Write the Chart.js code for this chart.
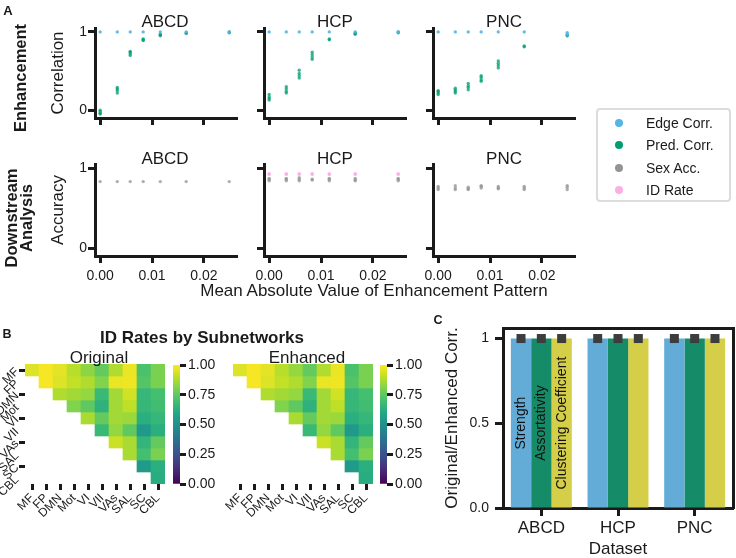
<!DOCTYPE html>
<html>
<head>
<meta charset="utf-8">
<script src="https://cdn.jsdelivr.net/npm/chart.js@4.4.1/dist/chart.umd.min.js"></script>
<style>
  body { margin: 0; background: #fff; }
  #fig { position: relative; width: 736px; height: 558px; overflow: hidden;
         font-family: "Liberation Sans", Arial, sans-serif; color: #1a1a1a; }
  #fig canvas { position: absolute; left: 0; top: 0; }
  .lbl { position: absolute; transform: translate(-50%, -50%); white-space: nowrap; line-height: 1; }
  .rot { transform: translate(-50%, -50%) rotate(-90deg); text-align: center; }
  .b { font-weight: bold; }
  #legend { position: absolute; left: 596px; top: 108px; width: 131px; height: 90px;
            border: 2px solid #dcdcdc; border-radius: 4px; }
  .li { position: absolute; left: 0; font-size: 14px; line-height: 1; }
  .li i { position: absolute; left: 17px; width: 8px; height: 8px; border-radius: 50%; top: 3px; }
  .li span { position: absolute; left: 48px; white-space: nowrap; }
</style>
</head>
<body>
<div id="fig">
  <canvas id="aTop0" width="736" height="558"></canvas>
  <canvas id="aTop1" width="736" height="558"></canvas>
  <canvas id="aTop2" width="736" height="558"></canvas>
  <canvas id="aBot0" width="736" height="558"></canvas>
  <canvas id="aBot1" width="736" height="558"></canvas>
  <canvas id="aBot2" width="736" height="558"></canvas>
  <canvas id="heatOrig" width="736" height="558"></canvas>
  <canvas id="heatEnh" width="736" height="558"></canvas>
  <canvas id="cbOrig" width="736" height="558"></canvas>
  <canvas id="cbEnh" width="736" height="558"></canvas>
  <canvas id="barC" width="736" height="558"></canvas>

  <div class="lbl b" style="left:8px;top:10px;font-size:13px">A</div>
  <div class="lbl b rot" style="left:20px;top:78px;font-size:16.5px">Enhancement</div>
  <div class="lbl b rot" style="left:19px;top:218px;font-size:16.5px;line-height:15px">Downstream<br>Analysis</div>
  <div class="lbl" style="left:165px;top:21px;font-size:17px">ABCD</div>
  <div class="lbl" style="left:335px;top:21px;font-size:17px">HCP</div>
  <div class="lbl" style="left:504px;top:21px;font-size:17px">PNC</div>
  <div class="lbl" style="left:165px;top:158px;font-size:17px">ABCD</div>
  <div class="lbl" style="left:335px;top:158px;font-size:17px">HCP</div>
  <div class="lbl" style="left:504px;top:158px;font-size:17px">PNC</div>
  <div class="lbl" style="left:374px;top:290px;font-size:17px">Mean Absolute Value of Enhancement Pattern</div>
  <div id="legend"></div>

  <div class="lbl b" style="left:7px;top:334px;font-size:12.5px">B</div>
  <div class="lbl b" style="left:202px;top:337px;font-size:17px">ID Rates by Subnetworks</div>
  <div class="lbl" style="left:99px;top:357px;font-size:17px">Original</div>
  <div class="lbl" style="left:307px;top:357px;font-size:17px">Enhanced</div>

  <div class="lbl b" style="left:438px;top:320px;font-size:12.5px">C</div>
</div>

<script>
// ── data: panel A ───────────────────────────────────────
const enhLevels = [0, 0.0033, 0.0058, 0.0083, 0.0116, 0.0166, 0.0249];
const xTickVals = [0, 0.01, 0.02];
const yTickVals = [0, 1];

// one inner list per enhancement level (repeated runs)
const abcdEdge = [[1], [1], [1], [1], [1], [1], [1]];
const abcdPred = [[0.0, -0.02, -0.04, -0.05], [0.22, 0.25, 0.27, 0.29], [0.70, 0.72, 0.74, 0.75],
                  [0.89, 0.90, 0.91], [0.95, 0.96, 0.97], [0.98, 0.99], [0.99, 1.0]];
const hcpEdge  = [[1], [1], [1], [1], [1], [1], [1]];
const hcpPred  = [[0.13, 0.15, 0.17, 0.20], [0.22, 0.24, 0.27, 0.30], [0.41, 0.44, 0.47, 0.51],
                  [0.65, 0.68, 0.71, 0.74], [0.90, 0.91], [0.97, 0.98, 0.99], [0.99, 1.0]];
const pncEdge  = [[1], [1], [1], [1], [1], [1], [0.97, 0.99]];
const pncPred  = [[0.20, 0.22, 0.24, 0.25], [0.22, 0.24, 0.26, 0.28], [0.26, 0.29, 0.31, 0.34],
                  [0.37, 0.39, 0.42, 0.44], [0.54, 0.57, 0.60, 0.63], [0.81, 0.82], [0.95, 0.96]];

const abcdSex = [[0.83], [0.83], [0.83], [0.83], [0.83], [0.83], [0.83]];
const abcdId  = [[], [], [], [], [], [], []];
const hcpSex  = [[0.84, 0.86, 0.87], [0.84, 0.86, 0.87], [0.84, 0.86, 0.88], [0.85, 0.86],
                 [0.84, 0.86, 0.87], [0.84, 0.85, 0.87], [0.84, 0.86, 0.87]];
const hcpId   = [[0.92, 0.93], [0.92, 0.93], [0.92, 0.93], [0.92, 0.93], [0.92, 0.93], [0.92, 0.93], [0.92, 0.93]];
const pncSex  = [[0.73, 0.75, 0.77], [0.73, 0.75, 0.78], [0.73, 0.74, 0.76], [0.75, 0.77, 0.78],
                 [0.74, 0.75, 0.77], [0.73, 0.75, 0.77], [0.73, 0.76, 0.78]];
const pncId   = [[], [], [], [], [], [], []];

const SERIES = {
  edge: { label: "Edge Corr.",  color: "rgba(86,180,233,0.9)",  legend: "#56b4e9" },
  pred: { label: "Pred. Corr.", color: "rgba(2,158,115,0.75)",  legend: "#029e73" },
  sex:  { label: "Sex Acc.",    color: "rgba(148,148,148,0.75)", legend: "#949494" },
  id:   { label: "ID Rate",     color: "rgba(251,175,228,0.9)", legend: "#fbafe4" },
};

// ── data: panel B (upper triangle, row i holds columns i..9) ──
const netLabels = ["MF", "FP", "DMN", "Mot", "VI", "VII", "VAs", "SAL", "SC", "CBL"];
const idRateOrig = [
  [0.95, 0.99, 0.96, 0.89, 0.83, 0.76, 0.88, 0.97, 0.71, 0.80],
  [0.99, 0.95, 0.91, 0.88, 0.81, 0.97, 0.98, 0.73, 0.80],
  [0.88, 0.86, 0.84, 0.67, 0.86, 0.93, 0.66, 0.70],
  [0.81, 0.75, 0.64, 0.86, 0.90, 0.66, 0.69],
  [0.87, 0.76, 0.86, 0.85, 0.63, 0.66],
  [0.67, 0.84, 0.75, 0.53, 0.63],
  [0.92, 0.87, 0.65, 0.76],
  [0.87, 0.70, 0.80],
  [0.54, 0.63],
  [0.62],
];
const idRateEnh = [
  [0.95, 0.99, 0.96, 0.89, 0.84, 0.76, 0.88, 0.97, 0.71, 0.80],
  [0.99, 0.95, 0.91, 0.88, 0.81, 0.97, 0.98, 0.73, 0.80],
  [0.88, 0.86, 0.84, 0.67, 0.86, 0.93, 0.66, 0.70],
  [0.81, 0.75, 0.64, 0.86, 0.90, 0.66, 0.69],
  [0.87, 0.76, 0.86, 0.85, 0.63, 0.66],
  [0.67, 0.84, 0.75, 0.53, 0.63],
  [0.92, 0.87, 0.65, 0.76],
  [0.87, 0.70, 0.80],
  [0.54, 0.63],
  [0.62],
];
const cbTickVals = [0, 0.25, 0.5, 0.75, 1];

// ── data: panel C ───────────────────────────────────────
const datasetsC = ["ABCD", "HCP", "PNC"];
const strengthCorr = [0.998, 0.998, 0.998];
const assortCorr   = [0.998, 0.998, 0.998];
const clusterCorr  = [0.998, 0.998, 0.998];
const cTickVals   = [0, 0.5, 1];
const cTickLabels = ["0.0", "0.5", "1"];

// ── shared style ────────────────────────────────────────
const W = 736, H = 558;
const INK = "#1a1a1a";
const FONT = '"Liberation Sans", Arial, sans-serif';
const VIRIDIS = ["#440154", "#482475", "#414487", "#355f8d", "#2a788e", "#21918c",
                 "#22a884", "#44bf70", "#7ad151", "#bddf26", "#fde725"];

Chart.defaults.font.family = FONT;
Chart.defaults.color = INK;
Chart.defaults.animation = false;
Chart.defaults.responsive = false;
Chart.defaults.devicePixelRatio = 1;
Chart.defaults.events = [];
Chart.defaults.plugins.legend.display = false;
Chart.defaults.plugins.tooltip.enabled = false;

function hexRgb(h) {
  return [1, 3, 5].map(k => parseInt(h.slice(k, k + 2), 16));
}
function viridis(v) {
  const t = Math.max(0, Math.min(1, v)) * (VIRIDIS.length - 1);
  const k = Math.min(Math.floor(t), VIRIDIS.length - 2);
  const f = t - k;
  const a = hexRgb(VIRIDIS[k]), b = hexRgb(VIRIDIS[k + 1]);
  const c = a.map((x, i) => Math.round(x + (b[i] - x) * f));
  return `rgb(${c[0]},${c[1]},${c[2]})`;
}

const tickGrid = (len, w) => ({ display: true, drawOnChartArea: false, drawTicks: true,
                                tickLength: len, tickWidth: w, tickColor: INK });
const spine = { display: true, width: 3, color: INK };

function toPoints(vals) {
  const pts = [];
  vals.forEach((runs, i) => runs.forEach(v => pts.push({ x: enhLevels[i], y: v })));
  return pts;
}

// ── panel A: scatter subplots ───────────────────────────
function scatterPanel(id, area, series, opt) {
  new Chart(document.getElementById(id), {
    type: "scatter",
    data: {
      datasets: series.map(([key, vals]) => ({
        label: SERIES[key].label,
        data: toPoints(vals),
        backgroundColor: SERIES[key].color,
        borderWidth: 0,
        pointRadius: 1.7,
      })),
    },
    options: {
      layout: { padding: { left: area.l - opt.yw, top: area.t, right: W - area.r, bottom: H - area.b - 30 } },
      scales: {
        x: {
          type: "linear", min: -0.001, max: 0.0264,
          afterBuildTicks: s => { s.ticks = xTickVals.map(v => ({ value: v })); },
          afterFit: s => { s.height = 30; },
          grid: tickGrid(7, 3), border: spine,
          ticks: { autoSkip: false, padding: 5, font: { size: 14 }, color: INK,
                   callback: v => opt.xLabels ? Number(v).toFixed(2) : "" },
        },
        y: {
          type: "linear", min: -0.1, max: 1.05,
          afterBuildTicks: s => { s.ticks = yTickVals.map(v => ({ value: v })); },
          afterFit: s => { s.width = opt.yw; },
          grid: tickGrid(7, 3), border: spine,
          ticks: { autoSkip: false, padding: 1, font: { size: 14 }, color: INK,
                   callback: v => opt.yTitle ? String(v) : "" },
          title: { display: !!opt.yTitle, text: opt.yTitle || "", font: { size: 17 },
                   color: INK, padding: { top: 0, bottom: 0 } },
        },
      },
    },
  });
}

const colL = [95, 264, 433];
const topRow = { t: 28, b: 118 }, botRow = { t: 164, b: 256 };
const areaOf = (c, row) => ({ l: colL[c], r: colL[c] + 142, t: row.t, b: row.b });

scatterPanel("aTop0", areaOf(0, topRow), [["edge", abcdEdge], ["pred", abcdPred]], { yw: 47, yTitle: "Correlation", xLabels: false });
scatterPanel("aTop1", areaOf(1, topRow), [["edge", hcpEdge],  ["pred", hcpPred]],  { yw: 30, xLabels: false });
scatterPanel("aTop2", areaOf(2, topRow), [["edge", pncEdge],  ["pred", pncPred]],  { yw: 30, xLabels: false });
scatterPanel("aBot0", areaOf(0, botRow), [["sex", abcdSex], ["id", abcdId]], { yw: 47, yTitle: "Accuracy", xLabels: true });
scatterPanel("aBot1", areaOf(1, botRow), [["sex", hcpSex],  ["id", hcpId]],  { yw: 30, xLabels: true });
scatterPanel("aBot2", areaOf(2, botRow), [["sex", pncSex],  ["id", pncId]],  { yw: 30, xLabels: true });

// legend (HTML)
const legendEl = document.getElementById("legend");
["edge", "pred", "sex", "id"].forEach((k, i) => {
  const row = document.createElement("div");
  row.className = "li";
  row.style.top = (6 + i * 22.3) + "px";
  row.innerHTML = `<i style="background:${SERIES[k].legend}"></i><span>${SERIES[k].label}</span>`;
  legendEl.appendChild(row);
});

// ── panel B: heatmaps + colorbars ───────────────────────
const rotYLabels = {
  id: "rotYLabels",
  afterDraw(chart) {
    const { ctx, chartArea, scales } = chart;
    ctx.save();
    ctx.font = `12px ${FONT}`;
    ctx.fillStyle = INK;
    ctx.textAlign = "right";
    ctx.textBaseline = "middle";
    netLabels.forEach((lab, i) => {
      ctx.save();
      ctx.translate(chartArea.left - 8, scales.y.getPixelForValue(i + 0.5));
      ctx.rotate(-Math.PI / 4);
      ctx.fillText(lab, 0, 0);
      ctx.restore();
    });
    ctx.restore();
  },
};

function heatmap(id, rows, area, showY) {
  const datasets = rows.map((vals, i) => ({
    data: netLabels.map((_, j) => (j >= i ? [i, i + 1] : null)),
    backgroundColor: netLabels.map((_, j) => (j >= i ? viridis(vals[j - i]) : "rgba(0,0,0,0)")),
    borderWidth: 0, grouped: false, barPercentage: 1, categoryPercentage: 1,
  }));
  new Chart(document.getElementById(id), {
    type: "bar",
    data: { labels: netLabels, datasets },
    plugins: showY ? [rotYLabels] : [],
    options: {
      layout: { padding: { left: area.l - 20, top: area.t, right: W - area.r, bottom: H - area.b - 40 } },
      scales: {
        x: {
          afterFit: s => { s.height = 40; },
          grid: { ...tickGrid(6, 3), offset: false }, border: { display: false },
          ticks: { autoSkip: false, minRotation: 45, maxRotation: 45, padding: 1, font: { size: 12 }, color: INK },
        },
        y: {
          type: "linear", reverse: true, min: 0, max: netLabels.length,
          afterBuildTicks: s => { s.ticks = netLabels.map((_, i) => ({ value: i + 0.5 })); },
          afterFit: s => { s.width = 20; },
          grid: showY ? tickGrid(6, 3) : { display: false }, border: { display: false },
          ticks: { callback: () => "" },
        },
      },
    },
  });
}

function colorbar(id, area) {
  new Chart(document.getElementById(id), {
    type: "bar",
    data: {
      labels: [""],
      datasets: [{
        data: [[0, 1]],
        backgroundColor: c => {
          const ca = c.chart.chartArea;
          if (!ca) return VIRIDIS[5];
          const g = c.chart.ctx.createLinearGradient(0, ca.bottom, 0, ca.top);
          VIRIDIS.forEach((col, k) => g.addColorStop(k / (VIRIDIS.length - 1), col));
          return g;
        },
        borderWidth: 0, barPercentage: 1, categoryPercentage: 1,
      }],
    },
    options: {
      layout: { padding: { left: area.l, top: area.t, right: W - area.r - 45, bottom: H - area.b } },
      scales: {
        x: { display: false },
        y: {
          position: "right", min: 0, max: 1,
          afterBuildTicks: s => { s.ticks = cbTickVals.map(v => ({ value: v })); },
          afterFit: s => { s.width = 45; },
          grid: tickGrid(6, 3), border: { display: false },
          ticks: { padding: 2, font: { size: 14 }, color: INK, callback: v => Number(v).toFixed(2) },
        },
      },
    },
  });
}

heatmap("heatOrig", idRateOrig, { l: 25, r: 165, t: 364, b: 484 }, true);
heatmap("heatEnh",  idRateEnh,  { l: 233, r: 373, t: 364, b: 484 }, false);
colorbar("cbOrig", { l: 173, r: 180, t: 365, b: 484 });
colorbar("cbEnh",  { l: 380, r: 387, t: 365, b: 484 });

// ── panel C: grouped bars ───────────────────────────────
const barMarks = {
  id: "barMarks",
  afterDatasetsDraw(chart) {
    const { ctx, scales } = chart;
    ctx.save();
    chart.data.datasets.forEach((ds, di) => {
      chart.getDatasetMeta(di).data.forEach((el, i) => {
        ctx.fillStyle = "#3d3d3d";
        ctx.fillRect(el.x - 4.5, el.y - 4.5, 9, 9);
        if (i === 0) {
          ctx.save();
          ctx.translate(el.x, scales.y.getPixelForValue(0.5));
          ctx.rotate(-Math.PI / 2);
          ctx.font = `14px ${FONT}`;
          ctx.fillStyle = "#111";
          ctx.textAlign = "center";
          ctx.textBaseline = "middle";
          ctx.fillText(ds.label, 0, 0);
          ctx.restore();
        }
      });
    });
    ctx.restore();
  },
};

new Chart(document.getElementById("barC"), {
  type: "bar",
  data: {
    labels: datasetsC,
    datasets: [
      { label: "Strength", data: strengthCorr, backgroundColor: "#62acd7" },
      { label: "Assortativity", data: assortCorr, backgroundColor: "#168b68" },
      { label: "Clustering Coefficient", data: clusterCorr, backgroundColor: "#d4ce48" },
    ],
  },
  plugins: [barMarks],
  options: {
    datasets: { bar: { barPercentage: 1, categoryPercentage: 0.795, borderWidth: 0 } },
    layout: { padding: { left: 503 - 61, top: 328, right: W - 733, bottom: 0 } },
    scales: {
      x: {
        afterFit: s => { s.height = 50; },
        grid: { ...tickGrid(8, 3), offset: false }, border: spine,
        ticks: { padding: 2, font: { size: 17 }, color: INK },
        title: { display: true, text: "Dataset", font: { size: 17 }, color: INK, padding: { top: 0, bottom: -2 } },
      },
      y: {
        min: 0, max: 1.06,
        afterBuildTicks: s => { s.ticks = cTickVals.map(v => ({ value: v })); },
        afterFit: s => { s.width = 61; },
        grid: tickGrid(8, 3), border: spine,
        ticks: { padding: 6, font: { size: 14 }, color: INK,
                 callback: v => cTickLabels[cTickVals.indexOf(v)] },
        title: { display: true, text: "Original/Enhanced Corr.", font: { size: 17 }, color: INK, padding: { top: 0, bottom: 0 } },
      },
      xTop: {
        type: "category", position: "top", afterFit: s => { s.height = 0; },
        grid: { display: false }, ticks: { display: false }, border: spine,
      },
      yRight: {
        type: "linear", position: "right", min: 0, max: 1.06, afterFit: s => { s.width = 0; },
        grid: { display: false }, ticks: { display: false }, border: spine,
      },
    },
  },
});
</script>
</body>
</html>
